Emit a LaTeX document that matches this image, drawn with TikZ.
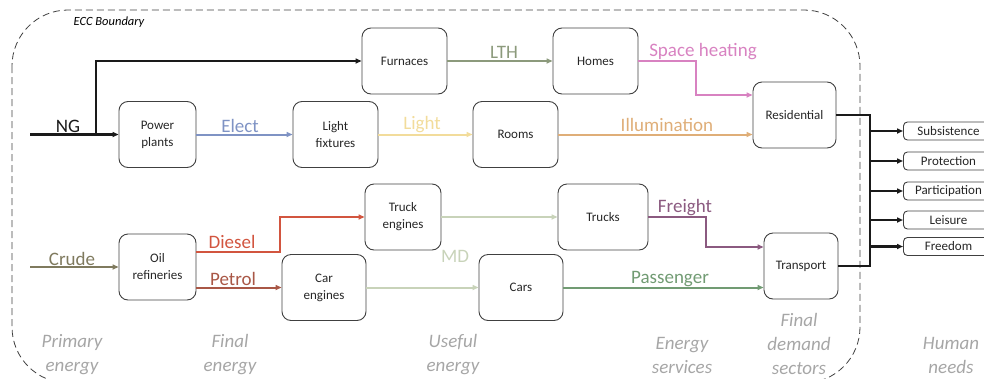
\documentclass[tikz,border=0pt]{standalone}
\usepackage{fontspec}
\setmainfont{Carlito}
\usetikzlibrary{arrows.meta}
\definecolor{boxline}{HTML}{404040}
\definecolor{ngcol}{HTML}{1A1A1A}
\definecolor{electcol}{HTML}{7F93C4}
\definecolor{lightcol}{HTML}{F2DC9B}
\definecolor{illumcol}{HTML}{DFAE78}
\definecolor{lthcol}{HTML}{8C9A7C}
\definecolor{heatcol}{HTML}{D882C1}
\definecolor{crudecol}{HTML}{7F7A5E}
\definecolor{dieselcol}{HTML}{D2553F}
\definecolor{petrolcol}{HTML}{A95746}
\definecolor{mdcol}{HTML}{C8D3B9}
\definecolor{freightcol}{HTML}{8B5A80}
\definecolor{passcol}{HTML}{719B73}
\definecolor{stagecol}{HTML}{A6A6A6}
\begin{document}
\begin{tikzpicture}[x=1pt,y=-1pt,
    device/.style ={draw=boxline, line width=0.9pt, rounded corners=9pt, align=center,
      minimum height=66pt, text=black!85, font=\fontsize{13}{17}\selectfont},
    need/.style ={draw=boxline, line width=0.9pt, rounded corners=4pt, minimum height=18pt,
      minimum width=90pt, anchor=west, text=black!85, font=\fontsize{13}{15}\selectfont},
    flow/.style ={line width=2pt, -{Triangle[length=6pt,width=5pt]}},
    flowlabel/.style ={anchor=base, inner sep=0pt, font=\fontsize{19}{22}\selectfont},
    stage/.style ={align=center, text=stagecol, font=\fontsize{19}{24}\selectfont\itshape},
    bus/.style ={line width=2.8pt, draw=ngcol}]
   \useasboundingbox (0,0) rectangle (984,378);
   \begin{scope}
   \clip (0,0) rectangle (984,378);
   \draw[black!75, line width=0.8pt, dash pattern=on 7pt off 4pt, rounded corners=56pt] (12,10) rectangle (860,383);
   \node[font=\fontsize{12.5}{14}\selectfont\itshape, anchor=base] (ecc) at (109,25) {ECC Boundary};
   % conversion devices
   \node[device, minimum width=85pt] (furn)  at (404.5,61)  {Furnaces};
   \node[device, minimum width=85pt] (homes) at (595.5,61)  {Homes};
   \node[device, minimum width=77pt] (pp)    at (157.5,134.5) {Power\\plants};
   \node[device, minimum width=85pt] (lf)    at (335.5,134.5) {Light\\fixtures};
   \node[device, minimum width=85pt] (rooms) at (515.5,134.5) {Rooms};
   \node[device, minimum width=83pt] (res)   at (794.5,115) {Residential};
   \node[device, minimum width=76pt] (te)    at (403,217)   {Truck\\engines};
   \node[device, minimum width=90pt] (trucks) at (603,217)  {Trucks};
   \node[device, minimum width=77pt] (oil)   at (157.5,267) {Oil\\refineries};
   \node[device, minimum width=84pt] (ce)    at (324,287.5) {Car\\engines};
   \node[device, minimum width=84pt] (cars)  at (521,287.5) {Cars};
   \node[device, minimum width=74pt] (trans) at (801,266)   {Transport};
   % human needs
   \node[need] (subs) at (903,131) {Subsistence};
   \node[need] (prot) at (903,161) {Protection};
   \node[need] (part) at (903,191) {Participation};
   \node[need] (leis) at (903,220) {Leisure};
   \node[need] (free) at (903,246.5) {Freedom};
   \end{scope}
   % sources and bends
   \coordinate (ngin) at (30,134.5);
   \coordinate (ngup) at (96,134.5);
   \coordinate (crin) at (30,267);
   \coordinate (dsl) at (280,252);
   \coordinate (sph) at (696,95);
   \coordinate (frt) at (706,247);
   \coordinate (bustop) at (870,115);
   \coordinate (busbot) at (870,266);
   % flows
   \draw[flow, draw=ngcol, line width=2.5pt] (ngin) to (pp);
   \draw[flow, draw=ngcol, line width=2.5pt] (ngup) |- (furn);
   \draw[flow, draw=electcol] (pp) to (lf);
   \draw[flow, draw=lightcol] (lf) to (rooms);
   \draw[flow, draw=illumcol] (rooms) to (rooms -| res.west);
   \draw[flow, draw=lthcol] (furn) to (homes);
   \draw[flow, draw=heatcol] (homes) -| (sph) to (sph -| res.west);
   \draw[flow, draw=crudecol] (crin) to (oil);
   \draw[flow, draw=dieselcol] (oil.east |- dsl) -- (dsl) |- (te);
   \draw[flow, draw=petrolcol] (oil.east |- ce) to (ce);
   \draw[flow, draw=mdcol] (te) to (trucks);
   \draw[flow, draw=mdcol] (ce) to (cars);
   \draw[flow, draw=freightcol] (trucks) -| (frt) to (frt -| trans.west);
   \draw[flow, draw=passcol] (cars) to (cars -| trans.west);
   \draw[bus] (res.east) -- (bustop) -- (busbot) -- (trans.east);
   \foreach \n in {subs,prot,part,leis,free}
     \draw[flow, draw=ngcol, line width=2.5pt] (bustop |- \n.west) to (\n.west);
   % flow labels
   \node[flowlabel, text=ngcol]      (nglbl)  at (68,132)  {NG};
   \node[flowlabel, text=electcol]   (ellbl)  at (240,132) {Elect};
   \node[flowlabel, text=lightcol]   (lilbl)  at (422,129) {Light};
   \node[flowlabel, text=illumcol]   (illbl)  at (667,131) {Illumination};
   \node[flowlabel, text=lthcol]     (ltlbl)  at (504,58)  {LTH};
   \node[flowlabel, text=heatcol]    (shlbl)  at (703,56)  {Space heating};
   \node[flowlabel, text=crudecol]   (crlbl)  at (72,265)  {Crude};
   \node[flowlabel, text=dieselcol]  (dilbl)  at (232,248) {Diesel};
   \node[flowlabel, text=petrolcol]  (pelbl)  at (233,285) {Petrol};
   \node[flowlabel, text=mdcol]      (mdlbl)  at (455,262) {MD};
   \node[flowlabel, text=freightcol] (frlbl)  at (685,212) {Freight};
   \node[flowlabel, text=passcol]    (palbl)  at (670,283) {Passenger};
   % stages
   \node[stage] (prim) at (72,355)  {Primary\\energy};
   \node[stage] (fin)  at (230,355) {Final\\energy};
   \node[stage] (use)  at (453,355) {Useful\\energy};
   \node[stage] (serv) at (682,355) {Energy\\services};
   \node[stage] (dem)  at (799,344) {Final\\demand\\sectors};
   \node[stage] (hum)  at (951,355) {Human\\needs};
 \end{tikzpicture}
\end{document}
